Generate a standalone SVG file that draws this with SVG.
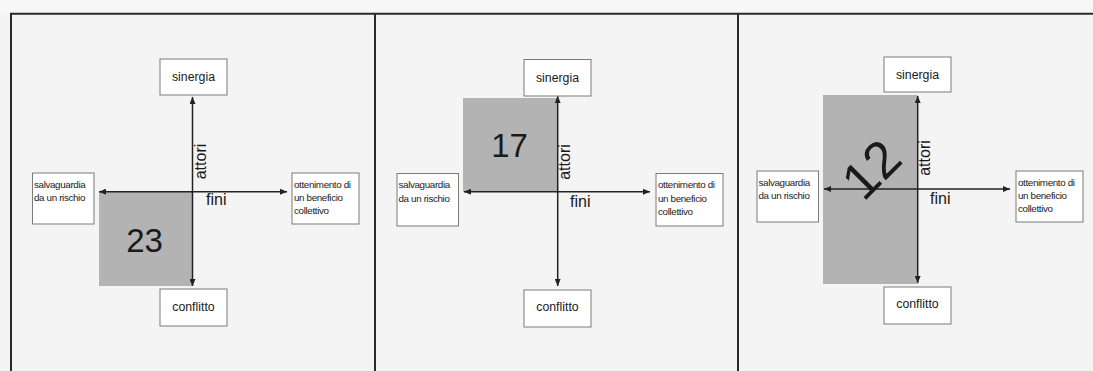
<svg xmlns="http://www.w3.org/2000/svg" width="1093" height="371" viewBox="0 0 1093 371">
<defs>
<marker id="ah" viewBox="0 0 7 6" refX="7" refY="3" markerWidth="7" markerHeight="6" markerUnits="userSpaceOnUse" orient="auto-start-reverse">
<path d="M0,0 L7,3 L0,6 z" fill="#222"/>
</marker>
<style>
text{font-family:"Liberation Sans",Arial,sans-serif;fill:#1a1a1a}
.box{fill:#fff;stroke:#7a7a7a;stroke-width:1}
.lbl{font-size:12.3px;text-anchor:middle}
.sm{font-size:9.8px;letter-spacing:-0.35px}
.ax{font-size:16px}
.num{font-size:33px;text-anchor:middle}
.area{fill:#b3b3b3}
.axis{stroke:#222;stroke-width:1.5;fill:none;marker-start:url(#ah);marker-end:url(#ah)}
.frame{stroke:#2a2a2a;stroke-width:2;fill:none}
</style>
</defs>
<rect x="0" y="0" width="1093" height="371" fill="#f4f4f4"/>
<rect x="0" y="0" width="1093" height="13" fill="#f7f7f7"/>
<g id="frames">
<path class="frame" d="M11,371 V13.8 H1093"/>
<path class="frame" d="M375,13.8 V371"/>
<path class="frame" d="M738,13.8 V371"/>
</g>
<g id="areas">
<rect class="area" x="99" y="192" width="93.5" height="94"/>
<rect class="area" x="463" y="98" width="94.7" height="94"/>
<rect class="area" x="823" y="95" width="94.7" height="189"/>
</g>
<g id="connectors">
<line class="axis" x1="192.5" y1="286" x2="192.5" y2="97"/>
<line class="axis" x1="99" y1="191.7" x2="287" y2="191.7"/>
<line class="axis" x1="557.7" y1="286" x2="557.7" y2="96"/>
<line class="axis" x1="464" y1="191.7" x2="650" y2="191.7"/>
<line class="axis" x1="917.7" y1="283" x2="917.7" y2="96"/>
<line class="axis" x1="824" y1="189" x2="1010" y2="189"/>
</g>
<g id="panel1">
<g id="p1-sinergia"><rect class="box" x="160" y="59" width="67" height="36"/><text class="lbl" x="193.5" y="81">sinergia</text></g>
<g id="p1-conflitto"><rect class="box" x="160" y="289" width="67" height="37"/><text class="lbl" x="193.5" y="310.5">conflitto</text></g>
<g id="p1-salvaguardia"><rect class="box" x="32.5" y="173" width="61.5" height="51"/><text class="sm" x="34" y="188">salvaguardia</text><text class="sm" x="34" y="201">da un rischio</text></g>
<g id="p1-ottenimento"><rect class="box" x="292" y="173" width="67" height="51"/><text class="sm" x="294" y="188">ottenimento di</text><text class="sm" x="294" y="201">un beneficio</text><text class="sm" x="294" y="214">collettivo</text></g>
<text class="ax" transform="translate(205.5,161.5) rotate(-90)" text-anchor="middle">attori</text>
<text class="ax" x="206" y="205">fini</text>
<text class="num" x="144.5" y="252">23</text>
</g>
<g id="panel2">
<g id="p2-sinergia"><rect class="box" x="524" y="59.5" width="67" height="36.5"/><text class="lbl" x="557.5" y="82">sinergia</text></g>
<g id="p2-conflitto"><rect class="box" x="524" y="290" width="67" height="37"/><text class="lbl" x="557.5" y="311">conflitto</text></g>
<g id="p2-salvaguardia"><rect class="box" x="397" y="173.5" width="61.5" height="52.5"/><text class="sm" x="398.5" y="188">salvaguardia</text><text class="sm" x="398.5" y="201.5">da un rischio</text></g>
<g id="p2-ottenimento"><rect class="box" x="656" y="173.5" width="67" height="52.5"/><text class="sm" x="658" y="188">ottenimento di</text><text class="sm" x="658" y="201.5">un beneficio</text><text class="sm" x="658" y="215">collettivo</text></g>
<text class="ax" transform="translate(570,162) rotate(-90)" text-anchor="middle">attori</text>
<text class="ax" x="570" y="206.5">fini</text>
<text class="num" x="509.5" y="157">17</text>
</g>
<g id="panel3">
<g id="p3-sinergia"><rect class="box" x="884" y="57" width="67" height="35"/><text class="lbl" x="917.5" y="79">sinergia</text></g>
<g id="p3-conflitto"><rect class="box" x="884" y="287" width="67" height="37"/><text class="lbl" x="917.5" y="308">conflitto</text></g>
<g id="p3-salvaguardia"><rect class="box" x="757" y="171" width="61.5" height="51"/><text class="sm" x="758.5" y="185.5">salvaguardia</text><text class="sm" x="758.5" y="199">da un rischio</text></g>
<g id="p3-ottenimento"><rect class="box" x="1016" y="171" width="67" height="51"/><text class="sm" x="1018" y="185.5">ottenimento di</text><text class="sm" x="1018" y="199">un beneficio</text><text class="sm" x="1018" y="212">collettivo</text></g>
<text class="ax" transform="translate(930,158) rotate(-90)" text-anchor="middle">attori</text>
<text class="ax" x="930" y="204">fini</text>
<text class="num" style="font-size:52px" transform="translate(884,182) rotate(-45)">12</text>
</g>
</svg>
